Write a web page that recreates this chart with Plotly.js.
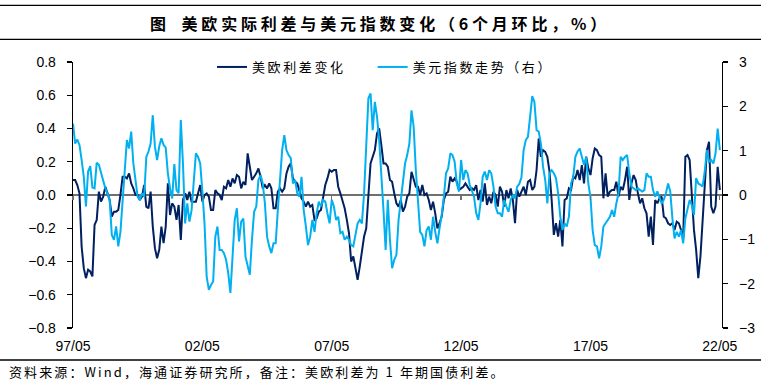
<!DOCTYPE html>
<html><head><meta charset="utf-8">
<script src="https://cdn.plot.ly/plotly-3.0.1.min.js"></script>
<style>
html,body{margin:0;padding:0;background:#fff;}
#chart{width:773px;height:389px;}
.gtitle{letter-spacing:3.8px;}
.legendtext{letter-spacing:2.6px;}
.annotation-text{letter-spacing:2.1px;}
</style></head><body><div id="chart"></div><script>
// ---- data (monthly, 6-month change) ----
const startYear = 1997;
const startMonth = 5;
const tickLabels = ['97/05','02/05','07/05','12/05','17/05','22/05'];
const seriesNames = ['美欧利差变化', '美元指数走势（右）'];

// US-EU real rate spread change (left axis)
const spreadChange = [
 0.09,0.09,0.06,0.01,-0.31,-0.44,-0.50,-0.45,-0.46,-0.49,
 -0.18,-0.15,0.02,-0.04,-0.01,0.05,0.01,-0.03,-0.13,-0.10,
 -0.10,-0.09,0.00,0.11,0.11,0.10,0.13,0.07,0.04,0.00,
 0.00,-0.03,-0.01,0.06,-0.07,-0.08,0.02,-0.19,-0.32,-0.38,
 -0.33,-0.19,-0.29,-0.19,0.07,-0.12,-0.05,-0.07,-0.15,-0.06,
 -0.27,-0.03,0.01,-0.03,0.02,-0.04,-0.04,-0.04,0.01,0.06,
 -0.04,0.00,0.01,-0.01,-0.09,-0.09,0.03,0.01,0.00,-0.03,
 0.05,0.04,0.09,0.05,0.10,0.07,0.12,0.11,0.04,0.08,
 0.06,0.25,0.17,0.09,0.11,0.13,0.16,0.11,0.04,0.06,
 0.04,0.07,0.04,-0.08,-0.08,0.02,0.04,0.02,0.04,0.13,
 0.17,0.19,0.10,0.08,0.07,0.03,-0.02,-0.04,-0.07,-0.04,
 -0.07,-0.06,-0.15,-0.14,-0.10,-0.09,-0.01,
 0.06,0.10,0.15,0.14,0.15,0.15,0.05,0.01,-0.03,-0.08,
 -0.15,-0.23,-0.40,-0.37,-0.44,-0.51,-0.43,-0.35,-0.25,-0.20,
 0.03,0.19,0.23,0.27,0.37,0.40,0.30,0.19,0.19,0.17,
 0.09,0.08,0.01,-0.05,-0.07,-0.03,-0.10,-0.07,-0.01,0.01,
 0.14,0.09,0.05,0.05,0.00,0.06,0.00,0.01,-0.03,-0.09,
 -0.04,-0.11,-0.20,-0.17,-0.13,-0.03,0.01,0.02,0.11,0.08,
 0.10,0.08,0.03,
 0.04,0.05,0.07,0.05,0.03,0.04,0.03,0.06,-0.03,0.03,
 -0.04,0.07,-0.06,-0.01,-0.05,0.02,0.00,-0.07,0.05,0.02,
 -0.07,0.03,-0.02,0.04,-0.03,-0.17,0.03,-0.01,
 0.02,0.05,0.00,0.08,0.09,0.03,0.05,0.15,0.34,0.23,
 0.27,0.26,0.23,0.14,-0.03,-0.24,-0.17,-0.25,-0.15,-0.31,
 -0.03,-0.02,0.04,0.03,0.11,0.10,0.15,0.09,0.18,0.07,
 0.23,0.16,
 0.12,0.22,0.28,0.27,0.24,0.23,-0.02,0.13,-0.01,0.02,
 0.03,0.03,0.08,-0.01,0.05,0.03,0.09,0.17,-0.03,0.07,
 0.12,0.09,0.01,-0.05,-0.02,-0.08,-0.11,-0.25,-0.13,-0.30,
 -0.03,-0.05,-0.02,-0.01,-0.13,-0.14,-0.17,-0.18,-0.17,-0.21,
 -0.16,-0.17,-0.21,-0.26,0.23,0.24,0.21,-0.01,-0.21,-0.33,
 -0.50,-0.37,-0.17,0.07,0.27,0.32,-0.07,-0.11,-0.07,0.17,
 0.03
];

// US dollar index change (right axis)
const usdIndexChange = [
 1.61,1.16,1.25,1.13,0.79,0.41,-0.26,0.53,0.65,0.17,
 0.15,0.73,0.68,0.49,0.32,0.15,0.04,-0.11,-0.90,-1.01,
 -0.71,-1.16,-0.83,-0.11,0.64,1.24,1.05,1.43,0.71,0.26,
 -0.04,-0.11,0.04,-0.04,0.86,0.98,1.16,1.80,1.09,0.79,
 1.10,1.28,1.13,1.07,0.49,0.15,-0.08,0.70,0.11,0.04,
 1.69,0.71,-0.64,-0.19,-0.60,-0.34,0.41,0.94,0.86,0.71,
 0.08,-0.64,-1.84,-2.14,-2.03,-1.95,-0.94,-0.71,-1.24,-1.24,
 -1.31,-1.46,-1.76,-2.21,-1.39,-0.56,-0.30,-1.05,-0.60,-0.53,
 -1.39,-1.61,-1.80,-1.01,-0.38,-0.26,0.34,0.45,0.26,-0.19,
 -0.94,-1.16,-1.31,-1.09,-1.09,-0.34,0.41,1.01,1.35,1.01,
 0.90,0.83,0.26,0.34,0.04,-0.04,0.41,-0.34,-0.71,-1.13,
 -0.94,-0.56,-0.83,-0.41,-0.15,-0.26,-0.11,
 -0.15,-0.41,-0.64,-0.11,-0.26,-0.56,-0.49,-0.86,-0.83,-1.01,
 -0.94,-1.01,-1.13,-1.16,-0.86,-0.64,-0.56,-0.64,0.04,1.09,
 2.18,2.29,1.46,2.10,1.76,1.24,0.56,-0.34,-1.24,-0.11,
 -1.01,-1.65,-1.46,-1.35,-0.56,-0.11,0.23,0.71,0.90,1.16,
 1.91,1.54,0.56,-0.04,-0.83,-0.90,-1.16,-0.79,-0.71,-1.01,
 -0.49,-0.83,-1.09,-0.75,-0.45,-0.04,0.49,0.60,0.94,0.90,
 0.75,0.26,0.08,
 0.79,0.34,0.56,0.49,0.23,0.11,-0.04,-0.41,-0.56,-0.19,
 0.41,0.53,0.34,0.56,0.49,0.19,-0.26,-0.41,-0.41,-0.49,
 -0.11,-0.26,-0.38,-0.11,0.00,-0.08,0.19,0.25,
 0.40,1.01,1.24,1.31,1.84,2.23,2.10,1.46,1.43,1.16,
 0.64,0.34,-0.19,0.49,0.56,0.49,0.38,0.04,-0.49,-0.79,
 -0.64,-0.71,-0.49,0.26,0.41,0.86,0.98,1.05,0.86,0.68,
 0.86,0.26,
 -0.05,-0.79,-1.13,-1.16,-1.43,-1.16,-0.71,-0.64,-0.56,-0.49,
 -0.34,-0.49,-0.19,0.04,0.86,0.79,0.86,0.90,0.49,0.19,
 0.15,0.11,0.15,0.11,0.08,0.11,0.49,0.41,
 0.41,0.11,-0.04,0.08,-0.08,-0.19,-0.11,0.04,0.26,0.08,
 -0.53,-0.98,-0.83,-0.94,-0.79,-1.09,-0.53,-0.34,-0.11,-0.23,
 -0.45,0.38,0.26,0.23,0.19,0.53,1.01,0.75,0.79,0.71,
 0.94,1.50,1.01
];

// ---- month categories ----
const months = spreadChange.map((_, i) => {
  const t = startMonth - 1 + i;
  const y = startYear + Math.floor(t / 12);
  const m = (t % 12) + 1;
  return y + '/' + String(m).padStart(2, '0');
});
const tickVals = tickLabels.map(l => {
  const yy = parseInt(l.slice(0, 2), 10);
  return (yy < 50 ? 2000 + yy : 1900 + yy) + '/' + l.slice(3);
});

// ---- pixel helpers for decorations ----
const W = 773, H = 389, ML = 73, MR = 51, MT = 62, MB = 61;
const PW = W - ML - MR, PH = H - MT - MB;
const px = x => (x - ML) / PW;
const py = y => (H - MB - y) / PH;

const axisFont = {family: 'Liberation Sans, Arial, sans-serif', size: 14, color: '#000'};
const cjk = 'Noto Sans CJK SC, sans-serif';
const legendPad = '\u00A0\u00A0\u00A0\u00A0';

const traces = [
  {x: months, y: spreadChange, name: seriesNames[0] + legendPad, type: 'scatter', mode: 'lines',
   line: {color: '#002060', width: 2}, xaxis: 'x', yaxis: 'y', hoverinfo: 'skip'},
  {x: months, y: usdIndexChange, name: seriesNames[1], type: 'scatter', mode: 'lines',
   line: {color: '#00B0F0', width: 2}, xaxis: 'x2', yaxis: 'y2', hoverinfo: 'skip'}
];

const hline = (y, x0, x1) => ({type: 'line', xref: 'paper', yref: 'paper',
  x0: px(x0), x1: px(x1), y0: py(y), y1: py(y), line: {color: '#000', width: 1.3}});

const layout = {
  width: W, height: H,
  margin: {l: ML, r: MR, t: MT, b: MB, pad: 0},
  paper_bgcolor: '#fff', plot_bgcolor: 'rgba(0,0,0,0)',
  showlegend: true,
  title: {text: '图\u2002美欧实际利差与美元指数变化（6个月环比，%）',
    font: {family: cjk, size: 16, color: '#000', weight: 700},
    xref: 'container', yref: 'container', x: 380 / W, xanchor: 'center',
    y: 1 - 24 / H, yanchor: 'middle'},
  xaxis: {type: 'category', range: [0, 301], tickvals: tickVals, ticktext: tickLabels,
    showline: false, showgrid: false, zeroline: false, ticks: '',
    tickfont: axisFont, ticklabelstandoff: 8, fixedrange: true},
  xaxis2: {type: 'category', overlaying: 'x', anchor: 'free', position: 0.5,
    range: [0, 301], tickvals: tickVals, showticklabels: false,
    showline: false, showgrid: false, zeroline: false,
    ticks: 'outside', ticklen: 4, tickwidth: 1.3, tickcolor: '#707070'},
  yaxis: {range: [-0.8, 0.8], dtick: 0.2, tick0: 0, tickformat: '.1f',
    showline: true, linecolor: '#000', linewidth: 1.3,
    ticks: 'outside', ticklen: 5, tickwidth: 1.3, tickcolor: '#000',
    showgrid: false, zeroline: true, zerolinecolor: '#707070', zerolinewidth: 1.3,
    tickfont: axisFont, ticklabelstandoff: 8},
  yaxis2: {range: [-3, 3], dtick: 1, tick0: 0, overlaying: 'y', side: 'right', anchor: 'x2',
    showline: true, linecolor: '#000', linewidth: 1.3,
    ticks: 'outside', ticklen: 5, tickwidth: 1.3, tickcolor: '#000',
    showgrid: false, zeroline: false, tickfont: axisFont, ticklabelstandoff: 8},
  legend: {orientation: 'h', x: px(212), xanchor: 'left', y: py(67), yanchor: 'middle',
    font: {family: cjk, size: 13, color: '#000'}, bgcolor: 'rgba(0,0,0,0)', borderwidth: 0,
    traceorder: 'normal'},
  shapes: [hline(5.3, 0, 761), hline(39.3, 0, 761), hline(360, 0, 761)],
  annotations: [{text: '资料来源：Wind，海通证券研究所，备注：美欧利差为 1 年期国债利差。',
    xref: 'paper', yref: 'paper', x: px(7), y: py(372), xanchor: 'left', yanchor: 'middle',
    showarrow: false, font: {family: cjk, size: 13, color: '#000'}}]
};

Plotly.newPlot('chart', traces, layout, {staticPlot: true, displayModeBar: false});
</script></body></html>
